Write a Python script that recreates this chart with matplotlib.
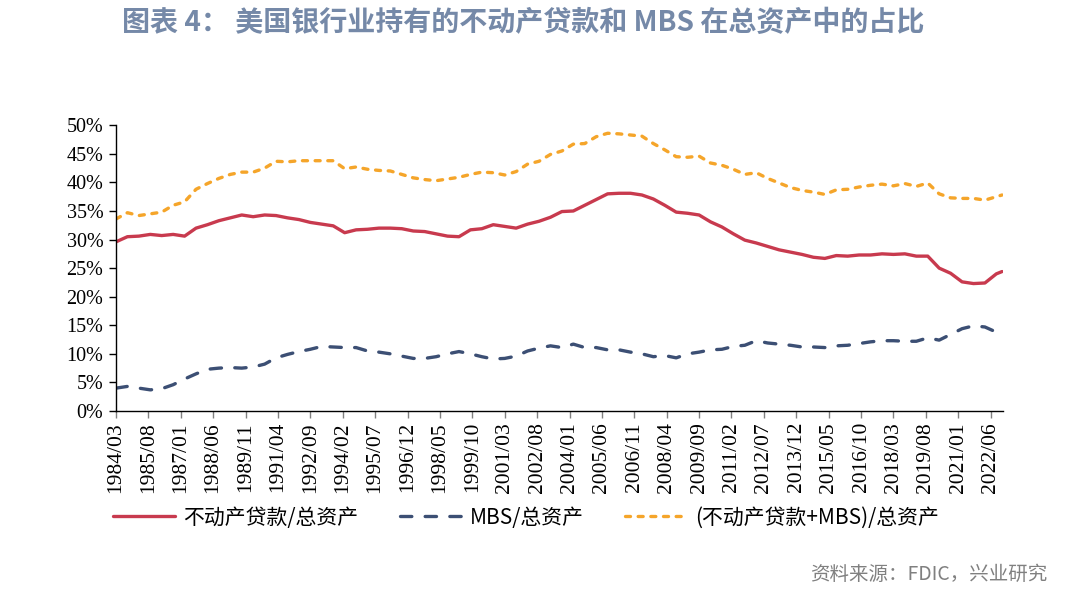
import pandas as pd
import matplotlib
matplotlib.use("Agg")
import matplotlib.pyplot as plt
from matplotlib.ticker import MultipleLocator, FuncFormatter

# semi-annual observations (Mar / Sep) plus the last quarter
dates = list(pd.date_range("1984-03-01", "2022-09-01", freq="6MS")) + [pd.Timestamp("2022-12-01")]

re_loans = [29.6, 30.5, 30.6, 30.9, 30.7, 30.9, 30.6, 32.0, 32.6, 33.3,
            33.8, 34.3, 34.0, 34.3, 34.2, 33.8, 33.5, 33.0, 32.7, 32.4,
            31.2, 31.7, 31.8, 32.0, 32.0, 31.9, 31.5, 31.4, 31.0, 30.6,
            30.5, 31.7, 31.9, 32.6, 32.3, 32.0, 32.7, 33.2, 33.9, 34.9,
            35.0, 36.0, 37.0, 38.0, 38.1, 38.1, 37.8, 37.1, 36.0, 34.8,
            34.6, 34.3, 33.1, 32.2, 31.0, 29.9, 29.4, 28.8, 28.2, 27.8,
            27.4, 26.9, 26.7, 27.2, 27.1, 27.3, 27.3, 27.5, 27.4, 27.5,
            27.1, 27.1, 25.0, 24.1, 22.6, 22.3, 22.4, 24.0, 24.4]

mbs = [4.0, 4.3, 4.0, 3.7, 3.9, 4.6, 5.6, 6.5, 7.3, 7.5,
       7.6, 7.5, 7.7, 8.2, 9.3, 9.9, 10.4, 10.8, 11.3, 11.2,
       11.1, 11.1, 10.5, 10.3, 10.0, 9.6, 9.2, 9.2, 9.5, 10.0,
       10.4, 10.0, 9.5, 9.1, 9.2, 9.6, 10.5, 11.0, 11.4, 11.1,
       11.7, 11.1, 11.1, 10.7, 10.7, 10.3, 10.0, 9.5, 9.7, 9.3,
       10.0, 10.3, 10.7, 10.8, 11.3, 11.5, 12.3, 11.9, 11.7, 11.5,
       11.2, 11.2, 11.1, 11.4, 11.5, 11.8, 12.1, 12.3, 12.3, 12.2,
       12.2, 12.8, 12.4, 13.4, 14.4, 14.9, 14.7, 13.8, 13.3]

re_plus_mbs = [33.6, 34.7, 34.2, 34.5, 34.8, 36.0, 36.6, 38.8, 39.8, 40.7,
               41.4, 41.8, 41.8, 42.5, 43.7, 43.6, 43.8, 43.8, 43.8, 43.8,
               42.4, 42.7, 42.3, 42.1, 42.0, 41.4, 40.8, 40.5, 40.3, 40.6,
               40.9, 41.4, 41.8, 41.7, 41.3, 41.9, 43.2, 43.7, 44.9, 45.5,
               46.7, 46.8, 48.0, 48.6, 48.5, 48.3, 48.1, 46.8, 45.7, 44.5,
               44.4, 44.6, 43.4, 43.0, 42.3, 41.4, 41.7, 40.7, 39.9, 39.1,
               38.6, 38.3, 37.9, 38.7, 38.8, 39.2, 39.5, 39.7, 39.4, 39.8,
               39.3, 39.9, 38.0, 37.3, 37.2, 37.2, 36.9, 37.5, 37.8]

series_names = ["不动产贷款/总资产", "MBS/总资产", "(不动产贷款+MBS)/总资产"]
colors = ["#C83A4E", "#3C4F74", "#F5A52A"]

start = pd.Timestamp("1984-03-01")
x = [(d.year - start.year) * 12 + d.month - start.month for d in dates]

plt.rcParams["font.family"] = ["Noto Sans CJK SC", "DejaVu Sans"]

fig = plt.figure(figsize=(10.7, 6.02), dpi=100)
ax = fig.add_axes([0.1084, 0.3173, 0.829, 0.4746])

ax.plot(x, re_loans, color=colors[0], lw=2.4, solid_capstyle="round", label=series_names[0])
ax.plot(x, mbs, color=colors[1], lw=2.4, dashes=(3.4, 4.0), dash_capstyle="round", label=series_names[1])
ax.plot(x, re_plus_mbs, color=colors[2], lw=2.4, dashes=(1.5, 2.3), dash_capstyle="round", label=series_names[2])

ax.set_xlim(0, 465.5)
ax.set_ylim(0, 50)
ax.yaxis.set_major_locator(MultipleLocator(5))
ax.yaxis.set_major_formatter(FuncFormatter(lambda v, p: f"{v:.0f}%"))

ticks = list(range(0, 466, 17))
ax.set_xticks(ticks)
ax.set_xticklabels([(start + pd.DateOffset(months=t)).strftime("%Y/%m") for t in ticks],
                   rotation=90, fontfamily="Liberation Serif", fontsize=15.5)
for lab in ax.get_yticklabels():
    lab.set_fontfamily("Liberation Serif")
    lab.set_fontsize(14.5)

for s in ["top", "right"]:
    ax.spines[s].set_visible(False)
ax.spines["left"].set_linewidth(1.0)
ax.spines["bottom"].set_linewidth(1.0)
ax.tick_params(axis="x", direction="out", length=5, width=1, color="#808080", pad=3)
ax.tick_params(axis="y", direction="out", length=5, width=1, pad=4)

fig.legend(loc="center left", bbox_to_anchor=(0.088, 0.14), ncol=3, frameon=False,
           fontsize=15, handlelength=2.97, handletextpad=0.39, columnspacing=2.0)

fig.text(0.114, 0.985, "图表 4： 美国银行业持有的不动产贷款和 MBS 在总资产中的占比",
         fontsize=20.2, fontweight="bold", color="#7589A8", va="top", ha="left")
fig.text(0.979, 0.045, "资料来源：FDIC，兴业研究", fontsize=14, color="#808080",
         va="center", ha="right")

fig.savefig("out.png", dpi=100)
plt.close(fig)
